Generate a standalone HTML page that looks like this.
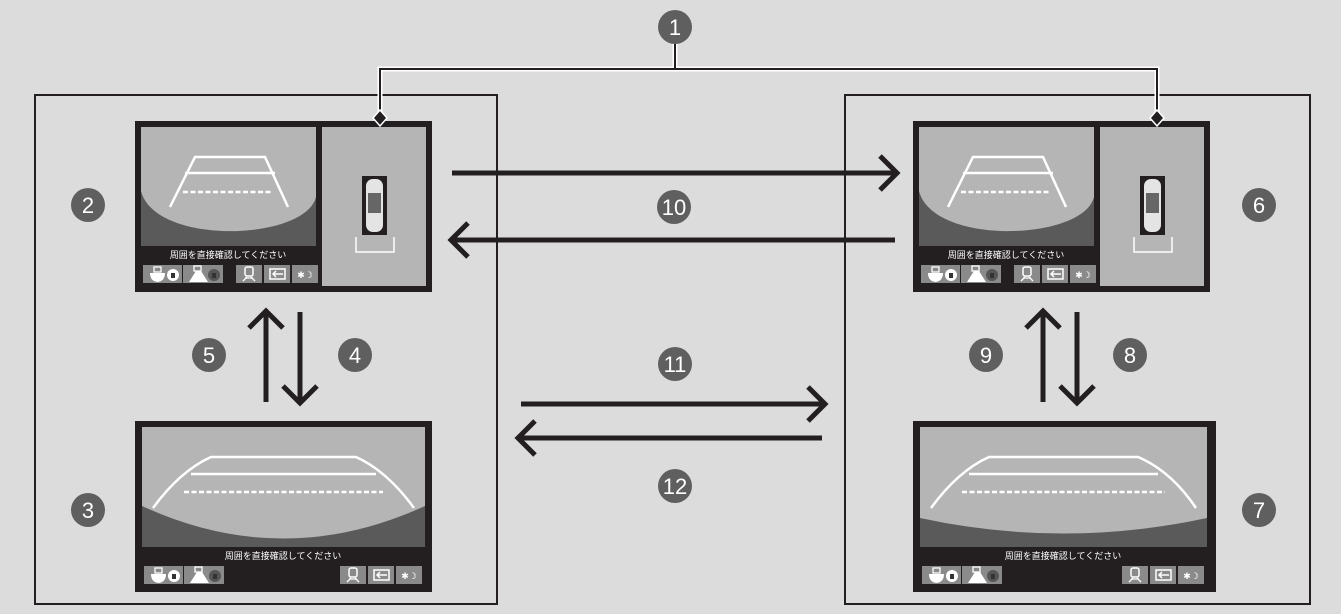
<!DOCTYPE html>
<html><head><meta charset="utf-8">
<style>
html,body{margin:0;padding:0;background:#dcdcdc;}
svg{display:block;}
text{font-family:"Liberation Sans","Noto Sans CJK JP",sans-serif;}
.num{fill:#fff;font-size:22px;text-anchor:middle;}
.jp{fill:#fff;font-size:9px;text-anchor:middle;font-family:"Liberation Sans","Noto Sans CJK JP",sans-serif;}
</style></head>
<body>
<svg width="1341" height="614" viewBox="0 0 1341 614" xmlns="http://www.w3.org/2000/svg">
<defs>
 <g id="btnL">
  <rect x="0" y="0" width="39" height="18" fill="#8a8a8a"/>
  <path d="M7,8 H22 Q22,16 14.5,17 Q7,16 7,8Z" fill="#fff"/>
  <rect x="11" y="2" width="7" height="5" fill="none" stroke="#fff" stroke-width="1.3"/>
  <circle cx="30" cy="10" r="6" fill="#fff"/><rect x="28" y="8" width="4" height="5" fill="#333"/>
  <rect x="40" y="0" width="40" height="18" fill="#8a8a8a"/>
  <path d="M46,17 L53,6 H58 L65,17Z" fill="#fff"/>
  <rect x="51" y="1" width="7" height="5" fill="none" stroke="#fff" stroke-width="1.3"/>
  <circle cx="71" cy="10" r="6" fill="#555"/><rect x="69" y="8" width="4" height="5" fill="#333"/>
 </g>
 <g id="btnR">
  <rect x="0" y="0" width="26" height="18" fill="#8a8a8a"/>
  <rect x="9" y="2" width="8" height="9" rx="2" fill="none" stroke="#fff" stroke-width="1.5"/>
  <path d="M7,16 L11,12 M19,16 L15,12 M9,13 H17" stroke="#fff" stroke-width="1.3"/>
  <rect x="28" y="0" width="26" height="18" fill="#8a8a8a"/>
  <rect x="34" y="4" width="15" height="10" fill="none" stroke="#fff" stroke-width="1.5"/>
  <path d="M37,9 H47 M40,6 L37,9 L40,12" stroke="#fff" stroke-width="1.5" fill="none"/>
  <rect x="56" y="0" width="26" height="18" fill="#8a8a8a"/>
  <text x="69" y="13" font-size="9" fill="#fff" text-anchor="middle">✱☽</text>
 </g>
 <g id="scrA">
  <rect x="0" y="0" width="297" height="171" fill="#231f20"/>
  <rect x="6" y="6" width="175" height="119" fill="#5a5a5a"/>
  <path d="M6,6 H181 V76 C170,120 20,125 6,70 Z" fill="#b5b5b5"/>
  <g stroke="#fff" stroke-width="2.5" fill="none">
   <path d="M35,86 L60,36 H130 L153,86"/>
   <path d="M50,52 H140"/>
   <path d="M48,71 H138" stroke-dasharray="5,2.5"/>
  </g>
  <rect x="187" y="6" width="104" height="159" fill="#b5b5b5"/>
  <rect x="227" y="55" width="25" height="59" fill="#231f20"/>
  <rect x="231" y="58" width="17" height="53" rx="7" fill="#e4e4e4"/>
  <rect x="233" y="72" width="13" height="20" fill="#666"/>
  <path d="M221,116 V131 H259 V116" stroke="#fff" stroke-width="1.5" fill="none"/>
  <text x="93" y="137" class="jp">周囲を直接確認してください</text>
  <use href="#btnL" x="8" y="144"/>
  <use href="#btnR" x="101" y="144"/>
 </g>
 <g id="scrB">
  <rect x="0" y="0" width="303" height="171" fill="#231f20"/>
  <rect x="7" y="6" width="287" height="120" fill="#5a5a5a"/>
  <path d="M7,6 H294 V97 Q150,128 7,97 Z" fill="#b5b5b5"/>
  <g stroke="#fff" stroke-width="2.5" fill="none">
   <path d="M18,87 Q45,50 76,36 H225 Q258,50 283,87"/>
   <path d="M56,53 H245"/>
   <path d="M49,71 H252" stroke-dasharray="5,2.5"/>
  </g>
  <text x="150" y="138" class="jp">周囲を直接確認してください</text>
  <use href="#btnL" x="9" y="145"/>
  <use href="#btnR" x="209" y="145"/>
 </g>
 <g id="scrC">
  <rect x="0" y="0" width="297" height="171" fill="#231f20"/>
  <rect x="7" y="6" width="283" height="120" fill="#5a5a5a"/>
  <path d="M7,6 H290 V85 Q148,150 7,85 Z" fill="#b5b5b5"/>
  <g stroke="#fff" stroke-width="2.5" fill="none">
   <path d="M18,87 Q45,50 76,36 H221 Q252,50 279,87"/>
   <path d="M56,53 H241"/>
   <path d="M49,71 H248" stroke-dasharray="5,2.5"/>
  </g>
  <text x="148" y="138" class="jp">周囲を直接確認してください</text>
  <use href="#btnL" x="9" y="145"/>
  <use href="#btnR" x="205" y="145"/>
 </g>
</defs>

<rect x="35" y="95" width="462" height="509" fill="none" stroke="#231f20" stroke-width="2"/>
<rect x="845" y="95" width="465" height="509" fill="none" stroke="#231f20" stroke-width="2"/>

<use href="#scrA" x="135" y="121"/>
<use href="#scrA" x="913" y="121"/>
<use href="#scrC" x="135" y="421"/>
<use href="#scrB" x="913" y="421"/>

<g fill="none">
 <path d="M675,40 V69 M380,118 V69 H1157 V118" stroke="#fff" stroke-width="5"/>
 <path d="M675,40 V69 M380,118 V69 H1157 V118" stroke="#231f20" stroke-width="2"/>
</g>
<path d="M380,110 L387,118 L380,126 L373,118Z" fill="#231f20" stroke="#fff" stroke-width="1.5"/>
<path d="M1157,110 L1164,118 L1157,126 L1150,118Z" fill="#231f20" stroke="#fff" stroke-width="1.5"/>

<g stroke="#231f20" stroke-width="5" fill="none">
 <path d="M452,173 H897 M880,156 L897,173 L880,190"/>
 <path d="M895,240 H451 M468,223 L451,240 L468,257"/>
 <path d="M521,404 H825 M808,387 L825,404 L808,421"/>
 <path d="M822,438 H518 M535,421 L518,438 L535,455"/>
 <path d="M266,402 V311 M249,328 L266,311 L283,328"/>
 <path d="M300,312 V403 M283,386 L300,403 L317,386"/>
 <path d="M1043,402 V311 M1026,328 L1043,311 L1060,328"/>
 <path d="M1077,312 V403 M1060,386 L1077,403 L1094,386"/>
</g>

<g fill="#5f5f5f">
 <circle cx="675" cy="27" r="17"/>
 <circle cx="88" cy="205" r="17"/>
 <circle cx="88" cy="510" r="17"/>
 <circle cx="355" cy="355" r="17"/>
 <circle cx="209" cy="355" r="17"/>
 <circle cx="1259" cy="205" r="17"/>
 <circle cx="1259" cy="510" r="17"/>
 <circle cx="1130" cy="355" r="17"/>
 <circle cx="986" cy="355" r="17"/>
 <circle cx="674" cy="207" r="17"/>
 <circle cx="675" cy="364" r="17"/>
 <circle cx="675" cy="486" r="17"/>
</g>
<g>
 <text class="num" x="675" y="35">1</text>
 <text class="num" x="88" y="213">2</text>
 <text class="num" x="88" y="518">3</text>
 <text class="num" x="355" y="363">4</text>
 <text class="num" x="209" y="363">5</text>
 <text class="num" x="1259" y="213">6</text>
 <text class="num" x="1259" y="518">7</text>
 <text class="num" x="1130" y="363">8</text>
 <text class="num" x="986" y="363">9</text>
 <text class="num" x="674" y="215">10</text>
 <text class="num" x="675" y="372">11</text>
 <text class="num" x="675" y="494">12</text>
</g>
</svg>
</body></html>
